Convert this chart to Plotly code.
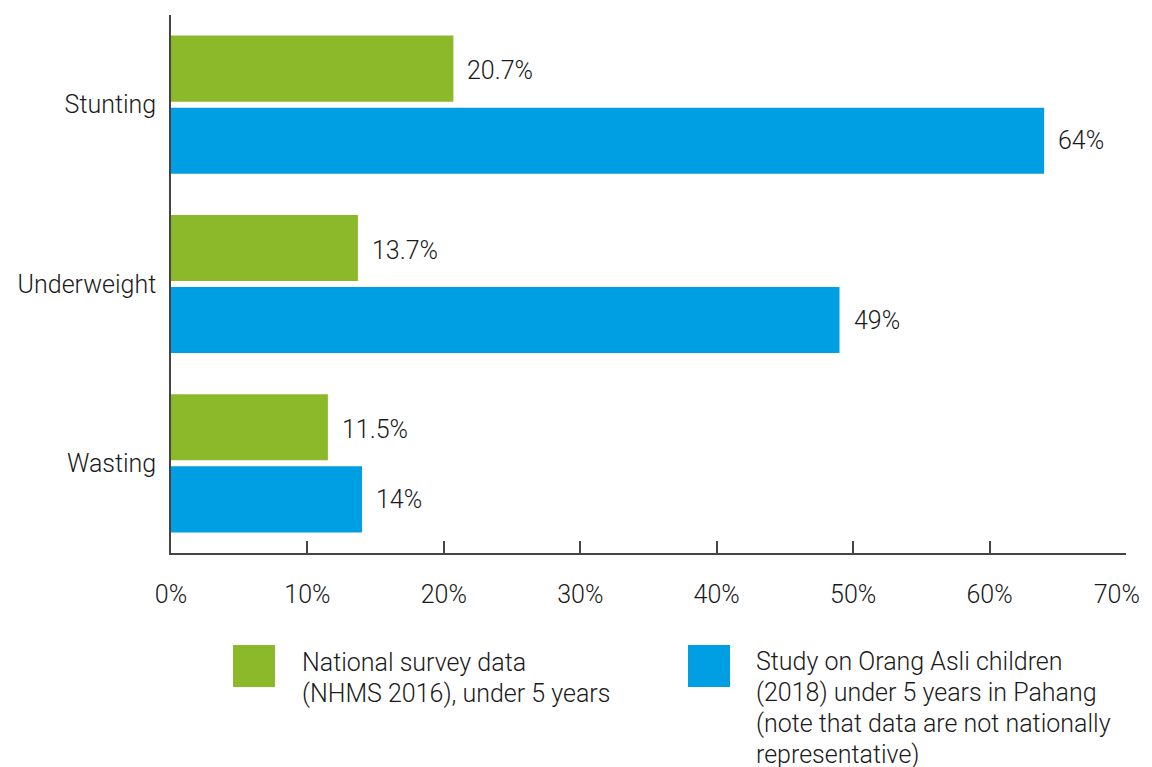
import plotly.graph_objects as go

categories = ["Stunting", "Underweight", "Wasting"]
national = [20.7, 13.7, 11.5]
orang_asli = [64, 49, 14]
national_labels = ["20.7%", "13.7%", "11.5%"]
orang_labels = ["64%", "49%", "14%"]
tick_vals = [0, 10, 20, 30, 40, 50, 60, 70]
# trailing no-break spaces nudge the last centred label left so it stays inside the page
tick_text = ["0%", "10%", "20%", "30%", "40%", "50%", "60%", "70%\u00a0\u00a0\u00a0"]
legend_national = ["National survey data", "(NHMS 2016), under 5 years"]
legend_orang = ["Study on Orang Asli children", "(2018) under 5 years in Pahang",
                "(note that data are not nationally", "representative)"]

GREEN = "#8BB929"
BLUE = "#009FE3"
TEXT = "#1a1a1a"
FONT = dict(family="Roboto, Liberation Sans, sans-serif", size=25, color=TEXT, weight=300)

# The page body has an 8px margin; figure is sized so the plot lands at the reference position.
OFF = 8
FIG_W, FIG_H = 1152 - OFF, 767 - OFF
ML, MR, MT = 171 - OFF, 26, 15 - OFF
MB = FIG_H - MT - 538

fig = go.Figure()
fig.add_trace(go.Bar(y=categories, x=national, orientation="h", marker=dict(color=GREEN, line_width=0),
                     name="National", showlegend=False, hoverinfo="skip"))
fig.add_trace(go.Bar(y=categories, x=orang_asli, orientation="h", marker=dict(color=BLUE, line_width=0),
                     name="Orang Asli", showlegend=False, hoverinfo="skip"))

annotations = []
for cat, v, lab in zip(categories, national, national_labels):
    annotations.append(dict(x=v, y=cat, xref="x", yref="y", text=lab, showarrow=False,
                            xanchor="left", yanchor="middle", xshift=12, yshift=34, font=FONT))
for cat, v, lab in zip(categories, orang_asli, orang_labels):
    annotations.append(dict(x=v, y=cat, xref="x", yref="y", text=lab, showarrow=False,
                            xanchor="left", yanchor="middle", xshift=12, yshift=-36, font=FONT))

W_PLOT = 955.0
H_PLOT = 538.0
def px_x(p):
    return (p - 171) / W_PLOT
def px_y(p):
    return (553 - p) / H_PLOT

shapes = [
    dict(type="rect", xref="paper", yref="paper", x0=px_x(233), x1=px_x(275), y0=px_y(687), y1=px_y(645),
         fillcolor=GREEN, line_width=0),
    dict(type="rect", xref="paper", yref="paper", x0=px_x(688), x1=px_x(730), y0=px_y(687), y1=px_y(645),
         fillcolor=BLUE, line_width=0),
]
for i, line in enumerate(legend_national):
    annotations.append(dict(x=px_x(300), y=px_y(662 + 31 * i), xref="paper", yref="paper", text=line,
                            showarrow=False, xanchor="left", yanchor="middle", align="left", font=FONT))
for i, line in enumerate(legend_orang):
    annotations.append(dict(x=px_x(754), y=px_y(661 + 31 * i), xref="paper", yref="paper", text=line,
                            showarrow=False, xanchor="left", yanchor="middle", align="left", font=FONT))

fig.update_layout(
    width=FIG_W, height=FIG_H,
    margin=dict(l=ML, r=MR, t=MT, b=MB),
    paper_bgcolor="white", plot_bgcolor="white",
    barmode="group", bargap=0.196, bargroupgap=0.083,
    font=FONT,
    annotations=annotations,
    shapes=shapes,
    showlegend=False,
)
fig.update_xaxes(range=[0, 70], tickvals=tick_vals, ticktext=tick_text, showgrid=False, zeroline=False,
                 showline=True, linecolor="#444444", linewidth=1.5, ticks="inside", ticklen=12,
                 tickcolor="#444444", tickwidth=1.5, ticklabelstandoff=18, tickfont=FONT,
                 ticklabeloverflow="allow", automargin=False)
fig.update_yaxes(categoryorder="array", categoryarray=categories, autorange=False, range=[2.5, -0.5],
                 showgrid=False, zeroline=False, showline=True, linecolor="#444444", linewidth=1.5,
                 ticks="", ticklabelstandoff=8, tickfont=FONT, automargin=False)

fig.write_html("out.html")
